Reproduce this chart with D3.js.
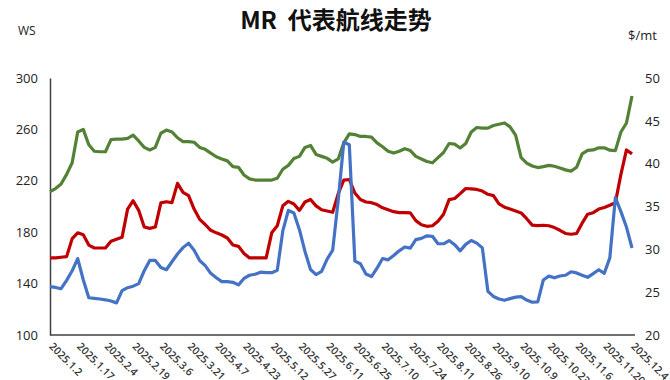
<!DOCTYPE html>
<html>
<head>
<meta charset="utf-8">
<script src="https://cdn.jsdelivr.net/npm/d3@7"></script>
<style>
  body { margin: 0; background: #fff; }
  svg { display: block; }
</style>
</head>
<body>
<div id="chart"></div>
<script>
// tick labels, one every 5 points
var dateLabels = ["2025.1.2", "2025.1.17", "2025.2.4", "2025.2.19", "2025.3.6", "2025.3.21",
  "2025.4.7", "2025.4.23", "2025.5.12", "2025.5.27", "2025.6.11", "2025.6.25", "2025.7.10",
  "2025.7.24", "2025.8.11", "2025.8.26", "2025.9.10", "2025.10.9", "2025.10.23", "2025.11.6",
  "2025.11.20", "2025.12.4"];

var greenSeries = [211.5, 214, 217.5, 225, 234, 258, 260, 248, 243, 242.6,
  242.6, 252, 252.5, 252.5, 253, 255.5, 251, 246, 244, 246,
  257, 259.5, 258, 253.5, 250.5, 250.5, 250, 246, 244.5, 241.5,
  238.7, 237, 235.5, 231, 230.5, 224.5, 221.5, 220.6, 220.6, 220.6,
  220.6, 222, 229, 232, 237.3, 239, 246, 247.5, 240.5, 239,
  237.5, 234.5, 237, 249.5, 256.5, 256, 254.5, 254.5, 254, 249.5,
  246.5, 243, 241.6, 243, 245, 243.5, 239, 237, 235, 234,
  238, 242, 249, 248.5, 245.5, 249, 258, 261.5, 261, 261,
  263, 264, 265, 262, 255.5, 238, 233.8, 231.5, 230.3, 231,
  232, 231.3, 230, 228.5, 227.5, 230.5, 241, 243.7, 244, 245.7,
  245.7, 243.8, 243.5, 258, 265, 286];

var redSeries = [160, 160, 160.5, 161, 175, 179.5, 178, 170, 167.7, 167.7,
  167.7, 173, 174.5, 176, 198, 204.5, 197, 184, 183, 184,
  202.8, 203.7, 203, 218, 211, 208.5, 198, 190, 186, 181.5,
  179.5, 177.8, 175.5, 170, 169, 163.5, 160, 160, 160, 160,
  179.5, 185, 200.5, 204, 202, 197, 203.5, 205.5, 200.5, 197.5,
  196.5, 195.5, 210, 220.5, 221, 210.5, 205.5, 203.5, 203, 201.5,
  199, 197.5, 196, 195.2, 195.2, 195, 189, 185.8, 184.6, 185,
  188.5, 194, 205.3, 206.2, 210, 214, 213.7, 213.3, 212, 209.5,
  208.5, 202, 199.5, 198, 196.5, 195, 190.5, 185.5, 185.1, 185.4,
  185, 183.6, 181.5, 179, 178.4, 179, 187, 194, 195.2, 198,
  199.2, 201, 203, 225, 244, 241];

var blueSeries = [137.6, 137, 136, 142.5, 150, 159.5, 143, 129, 128.5, 128,
  127.4, 126.5, 125, 134.5, 136.8, 138, 140, 150, 158, 158,
  152.5, 150.8, 157, 163, 168, 171.5, 166, 158, 154, 148,
  144.6, 141.5, 141.5, 141, 139, 144, 146.5, 147.3, 148.9, 148.5,
  148.5, 150.3, 181, 197, 195, 182, 165, 151, 147, 149.5,
  159, 166, 205, 250, 248, 157.5, 155.5, 147.5, 145.5, 152,
  159.5, 158.5, 161.8, 165.5, 168.5, 167.6, 174.2, 175.2, 177.2, 176.8,
  171, 171, 173.5, 170.3, 165.5, 170.5, 173.5, 171.5, 167.8, 134,
  130, 128, 127, 128.3, 129.5, 129.8, 127.2, 125.5, 125.8, 142.8,
  145.8, 144.5, 145.9, 146.5, 149.2, 148.3, 146.5, 144.9, 147.8, 150.8,
  148, 160, 207, 196, 184, 167.7];

var wsTicks = [100, 140, 180, 220, 260, 300];
var usdTicks = [20, 25, 30, 35, 40, 45, 50];

var series = [
  { name: "green", values: greenSeries, color: "#538135" },
  { name: "red", values: redSeries, color: "#c00000" },
  { name: "blue", values: blueSeries, color: "#4472c4" }
];

var width = 670, height = 380;
var margin = { top: 78, right: 38, bottom: 45, left: 50 };
var plotW = 632 - margin.left;
var plotH = height - margin.top - margin.bottom;

var svg = d3.select("#chart").append("svg")
  .attr("width", width)
  .attr("height", height);

var x = d3.scaleLinear()
  .domain([0, greenSeries.length - 1])
  .range([margin.left, margin.left + plotW]);

var yLeft = d3.scaleLinear().domain([100, 300]).range([margin.top + plotH, margin.top]);
var yRight = d3.scaleLinear().domain([20, 50]).range([margin.top + plotH, margin.top]);

// title (two spaces kept between MR and the Chinese part)
svg.append("text")
  .attr("x", 336)
  .attr("y", 29)
  .attr("text-anchor", "middle")
  .style("white-space", "pre")
  .style("font-family", "'Noto Sans CJK SC', sans-serif")
  .style("font-weight", "bold")
  .style("font-size", "24px")
  .style("fill", "#111")
  .text("MR\u00a0\u00a0代表航线走势");

svg.append("text")
  .attr("x", 18).attr("y", 35)
  .style("font-family", "'Open Sans', sans-serif")
  .style("font-size", "12px")
  .style("fill", "#222")
  .text("WS");

svg.append("text")
  .attr("x", 628).attr("y", 40)
  .style("font-family", "'Open Sans', sans-serif")
  .style("font-size", "13px")
  .style("fill", "#222")
  .text("$/mt");

// left axis
var leftAxis = svg.append("g")
  .attr("transform", "translate(" + margin.left + ",0)")
  .call(d3.axisLeft(yLeft).tickValues(wsTicks).tickSize(0).tickPadding(12));
leftAxis.select(".domain").attr("stroke", "#404040").attr("stroke-width", 1.5);
leftAxis.selectAll("text")
  .style("font-family", "'Open Sans', sans-serif")
  .style("font-size", "13px")
  .style("fill", "#222");

// right axis, labels only
var rightAxis = svg.append("g")
  .attr("transform", "translate(" + (margin.left + plotW) + ",0)")
  .call(d3.axisRight(yRight).tickValues(usdTicks).tickSize(0).tickPadding(13));
rightAxis.select(".domain").remove();
rightAxis.selectAll("text")
  .style("font-family", "'Open Sans', sans-serif")
  .style("font-size", "13px")
  .style("fill", "#222");

// bottom axis, labels run past the bottom edge like the original
var tickIdx = dateLabels.map(function (d, i) { return i * 5; });
var bottomAxis = svg.append("g")
  .attr("transform", "translate(0," + (margin.top + plotH) + ")")
  .call(d3.axisBottom(x).tickValues(tickIdx).tickSize(0)
    .tickFormat(function (d) { return dateLabels[d / 5]; }));
bottomAxis.select(".domain")
  .attr("d", "M" + margin.left + ",0H" + (margin.left + plotW + 3))
  .attr("stroke", "#404040").attr("stroke-width", 1.5);
bottomAxis.selectAll("text")
  .attr("y", 0).attr("dy", 0)
  .attr("text-anchor", "start")
  .attr("transform", "translate(-2,12) rotate(45)")
  .style("font-family", "'Open Sans', sans-serif")
  .style("font-weight", "600")
  .style("font-size", "10.5px")
  .style("fill", "#333");

var line = d3.line()
  .x(function (d, i) { return x(i); })
  .y(function (d) { return yLeft(d); });

svg.selectAll(".series")
  .data(series)
  .enter().append("path")
  .attr("class", "series")
  .attr("d", function (d) { return line(d.values); })
  .attr("fill", "none")
  .attr("stroke", function (d) { return d.color; })
  .attr("stroke-width", 3.2)
  .attr("stroke-linejoin", "round");
</script>
</body>
</html>
